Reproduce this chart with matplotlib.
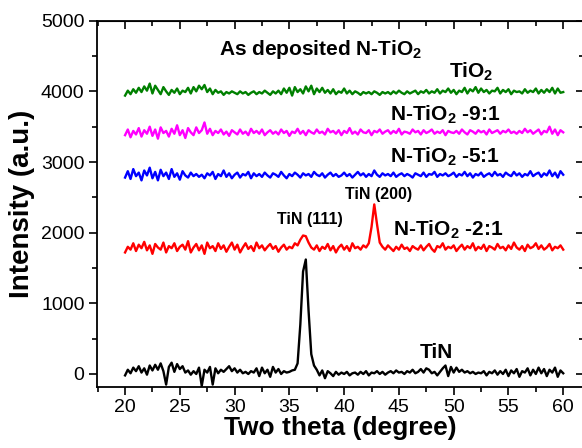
import numpy as np
import matplotlib
matplotlib.use("Agg")
import matplotlib.pyplot as plt
from matplotlib.ticker import MultipleLocator

plt.rcParams['font.family'] = ['Liberation Sans', 'DejaVu Sans']
plt.rcParams['mathtext.fontset'] = 'custom'
plt.rcParams['mathtext.bf'] = 'Liberation Sans:bold'
plt.rcParams['mathtext.rm'] = 'Liberation Sans'

# intensities, 2theta 20..60 in 0.25 deg steps
tin = [
    -20, 60, 10, 90, 40, 110, 20, 80,
    -10, 120, 50, 130, 60, 150, 40, -150,
    100, 160, 30, 140, 70, 110, 20, 50,
    -10, 40, 0, 90, -170, 60, 20, 100,
    -150, 80, 10, 60, 30, 70, 110, 40,
    80, 20, 60, 10, 30, 0, 40, 20,
    80, -30, 90, 10, 60, -40, 100, 20,
    70, 0, 40, 20, 30, 50, 60, 150,
    700, 1450, 1620, 900, 280, 120, 60, -20,
    50, -60, 40, 10, -30, 30, -10, 20,
    0, 30, -20, 10, 20, -10, 30, 0,
    40, -20, 20, 10, 40, 0, 30, -10,
    20, 40, 10, 50, 20, 30, 0, 40,
    20, 60, 10, 30, 70, 20, 80, 60,
    10, 30, -20, 30, 80, 120, -30, 100,
    20, 90, 30, 60, 20, 40, 10, 30,
    0, 20, 10, 40, -20, 30, 10, 50,
    -10, 40, 0, 60, -30, 50, 10, 70,
    -40, 40, 20, 80, -20, 60, 0, 90,
    10, 70, -30, 60, 20, 90, -40, 50,
    10]
ntio2_21 = [
    1720, 1800, 1760, 1850, 1740, 1830, 1780, 1870,
    1750, 1820, 1700, 1840, 1790, 1760, 1860, 1720,
    1810, 1780, 1850, 1740, 1800, 1830, 1760, 1880,
    1720, 1790, 1840, 1750, 1820, 1700, 1860, 1780,
    1810, 1740, 1850, 1770, 1820, 1730, 1800, 1860,
    1760, 1830, 1720, 1790, 1850, 1770, 1810, 1740,
    1860, 1780, 1820, 1750, 1800, 1840, 1770, 1810,
    1730, 1790, 1830, 1760, 1800, 1780, 1850, 1820,
    1900, 1960, 1950, 1860, 1790, 1760, 1820, 1740,
    1800, 1770, 1840, 1750, 1810, 1720, 1790, 1830,
    1760, 1810, 1740, 1850, 1780, 1800, 1760, 1820,
    1790, 1850, 2080, 2400, 2120, 1860, 1800, 1760,
    1820, 1780, 1740, 1800, 1760, 1830, 1770, 1790,
    1740, 1810, 1780, 1760, 1820, 1750, 1800, 1840,
    1770, 1730, 1810, 1790, 1850, 1760, 1800, 1780,
    1820, 1740, 1790, 1830, 1760, 1810, 1780, 1850,
    1750, 1800, 1770, 1830, 1740, 1810, 1790, 1760,
    1840, 1780, 1800, 1750, 1820, 1770, 1860, 1790,
    1760, 1810, 1740, 1830, 1780, 1800, 1850, 1770,
    1820, 1760, 1790, 1840, 1750, 1800, 1780, 1820,
    1760]
ntio2_51 = [
    2780, 2870, 2760, 2900, 2800, 2850, 2740, 2880,
    2810, 2920, 2770, 2860, 2740, 2890, 2800, 2850,
    2760, 2900, 2790, 2840, 2750, 2870, 2810, 2780,
    2850, 2800, 2830, 2790, 2820, 2770, 2840, 2810,
    2860, 2760, 2830, 2800, 2880, 2790, 2840, 2770,
    2820, 2850, 2780, 2830, 2810, 2860, 2770, 2840,
    2800, 2830, 2790, 2850, 2810, 2780, 2840, 2820,
    2790, 2860, 2810, 2770, 2830, 2800, 2850, 2820,
    2780, 2840, 2810, 2830, 2790, 2860, 2820, 2800,
    2840, 2780, 2820, 2850, 2800, 2830, 2790, 2810,
    2850, 2800, 2830, 2780, 2820, 2860, 2810, 2840,
    2790, 2830, 2800, 2880, 2820, 2790, 2840, 2810,
    2830, 2800, 2850, 2790, 2820, 2840, 2800, 2830,
    2810, 2780, 2840, 2820, 2800, 2850, 2790, 2830,
    2820, 2860, 2790, 2830, 2810, 2840, 2800, 2820,
    2850, 2790, 2830, 2810, 2860, 2800, 2840, 2780,
    2830, 2810, 2850, 2790, 2820, 2840, 2800, 2860,
    2810, 2830, 2790, 2850, 2820, 2800, 2860, 2810,
    2840, 2790, 2830, 2810, 2870, 2800, 2830, 2850,
    2790, 2840, 2810, 2880, 2800, 2850, 2780, 2870,
    2820]
ntio2_91 = [
    3380, 3460, 3350, 3440, 3390, 3480, 3360, 3450,
    3400, 3500, 3370, 3460, 3330, 3490, 3410, 3440,
    3360, 3470, 3400, 3520, 3380, 3450, 3340, 3480,
    3420, 3380, 3490, 3410, 3450, 3560, 3400, 3470,
    3380, 3440, 3410, 3460, 3390, 3430, 3370, 3450,
    3420, 3390, 3460, 3400, 3430, 3380, 3470, 3410,
    3440, 3400, 3460, 3380, 3420, 3450, 3400, 3430,
    3390, 3460, 3410, 3440, 3370, 3430, 3410, 3470,
    3400, 3440, 3380, 3450, 3420, 3400, 3460, 3410,
    3430, 3390, 3470, 3420, 3440, 3400, 3450, 3380,
    3440, 3410, 3480, 3400, 3430, 3390, 3460, 3420,
    3410, 3450, 3380, 3440, 3420, 3460, 3400, 3430,
    3450, 3400, 3440, 3410, 3470, 3390, 3430, 3420,
    3400, 3460, 3420, 3440, 3390, 3450, 3410, 3430,
    3460, 3400, 3430, 3410, 3450, 3380, 3440, 3420,
    3410, 3440, 3400, 3460, 3420, 3390, 3450, 3430,
    3400, 3450, 3420, 3440, 3390, 3460, 3410, 3430,
    3450, 3400, 3440, 3420, 3460, 3410, 3430, 3400,
    3440, 3410, 3470, 3420, 3450, 3400, 3430, 3460,
    3390, 3440, 3420, 3500, 3400, 3460, 3380, 3450,
    3420]
tio2 = [
    3940, 4010, 3960, 4030, 3980, 4050, 3990, 4070,
    4010, 4110, 3970, 4080, 4020, 3960, 4060, 4000,
    3950, 4020, 3980, 4040, 3960, 4010, 3990, 4050,
    3970, 4060, 4000, 4080, 4030, 4090, 3990, 4040,
    3960, 4020, 3980, 4000, 3950, 3990, 3970, 4000,
    3980, 3960, 4000, 3970, 3990, 3950, 3980, 4000,
    3960, 3990, 3970, 4010, 3980, 3950, 4000, 3970,
    4010, 3960, 4040, 3980, 4050, 3940, 4060, 3990,
    4030, 3970, 4070, 4000, 4080, 3960, 4040, 3990,
    4050, 3980, 4020, 3970, 4030, 3960, 4000, 3980,
    4040, 3970, 4010, 3960, 4000, 3980, 3950, 3990,
    3970, 3990, 3960, 4000, 3980, 3950, 3990, 3970,
    3990, 3960, 4000, 3970, 4010, 3980, 3960, 4000,
    3970, 3990, 4010, 3960, 4000, 3980, 4020, 3970,
    4000, 3980, 4030, 3970, 4010, 3990, 4040, 3980,
    4020, 3960, 4010, 3990, 4050, 3970, 4030, 4000,
    4060, 3980, 4040, 3990, 4020, 3970, 4010, 4000,
    4050, 3970, 4020, 3990, 4030, 3960, 4010, 3990,
    4000, 3970, 4030, 3980, 4010, 3990, 4040, 3970,
    4020, 3980, 4030, 3990, 4050, 3970, 4040, 3980,
    3990]

series = [(tin, 'black'), (ntio2_21, '#ff0000'), (ntio2_51, '#0000ff'),
          (ntio2_91, '#ff00ff'), (tio2, '#008000')]

fig = plt.figure(figsize=(5.82, 4.48), dpi=100)
ax = fig.add_axes([0.1667, 0.1362, 0.8368, 0.8176])

for y, c in series:
    x = np.linspace(20, 60, len(y))
    ax.plot(x, y, color=c, lw=1.7)

ax.set_xlim(17.44, 61.9)
ax.set_ylim(-184, 5000)


def ticks(axis):
    axis.set_major_locator(MultipleLocator(5 if axis.axis_name == 'x' else 1000))
    axis.set_minor_locator(MultipleLocator(2.5 if axis.axis_name == 'x' else 500))


for a in (ax.xaxis, ax.yaxis):
    ticks(a)
ax.tick_params(which='both', direction='out', top=False, right=False,
               labelsize=14, width=1.2, pad=3)
ax.tick_params(which='major', length=6)
ax.tick_params(which='minor', length=3.5)
for s in ax.spines.values():
    s.set_linewidth(1.3)

# mirrored inward ticks on top / right
ax2 = ax.secondary_xaxis('top')
ay2 = ax.secondary_yaxis('right')
ticks(ax2.xaxis)
ticks(ay2.yaxis)
for sec in (ax2, ay2):
    sec.tick_params(which='both', direction='in', labeltop=False,
                    labelright=False, width=1.2)
    sec.tick_params(which='major', length=6)
    sec.tick_params(which='minor', length=3.5)

ax.set_xlabel('Two theta (degree)', fontsize=19, fontweight='bold', labelpad=0)
ax.set_ylabel('Intensity (a.u.)', fontsize=20, fontweight='bold', labelpad=4)

kw = dict(fontsize=15, fontweight='bold', va='baseline')
ax.text(28.6, 4520, r'As deposited N-TiO$_\mathbf{2}$', **kw)
ax.text(49.6, 4200, r'TiO$_\mathbf{2}$', **kw)
ax.text(44.2, 3590, r'N-TiO$_\mathbf{2}$ -9:1', **kw)
ax.text(44.2, 3000, r'N-TiO$_\mathbf{2}$ -5:1', **kw)
ax.text(44.5, 1966, r'N-TiO$_\mathbf{2}$ -2:1', **kw)
ax.text(46.9, 226, 'TiN', **kw)
ax.text(43.15, 2546, 'TiN (200)', ha='center', va='center', fontsize=11.5, fontweight='bold')
ax.text(36.9, 2180, 'TiN (111)', ha='center', va='center', fontsize=11.5, fontweight='bold')

fig.savefig('out.png', dpi=100)
